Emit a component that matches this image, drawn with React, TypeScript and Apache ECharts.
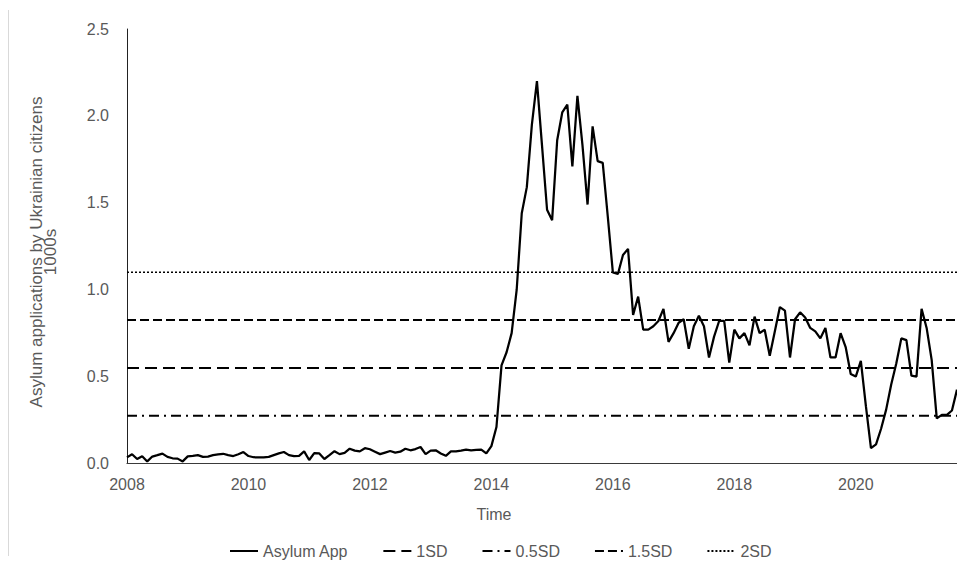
import React, { useEffect, useRef } from "react";
import * as echarts from "echarts";

// Monthly asylum applications by Ukrainian citizens (thousands), Jan 2008 – Sep 2021
const y2008 = [0.035, 0.053, 0.026, 0.042, 0.012, 0.04, 0.048, 0.057, 0.038, 0.03, 0.028, 0.012];
const y2009 = [0.041, 0.044, 0.048, 0.038, 0.04, 0.048, 0.052, 0.056, 0.048, 0.043, 0.053, 0.066];
const y2010 = [0.043, 0.036, 0.035, 0.035, 0.038, 0.048, 0.058, 0.066, 0.048, 0.042, 0.044, 0.07];
const y2011 = [0.02, 0.06, 0.058, 0.026, 0.048, 0.071, 0.054, 0.061, 0.085, 0.074, 0.07, 0.088];
const y2012 = [0.082, 0.068, 0.054, 0.063, 0.072, 0.063, 0.068, 0.085, 0.076, 0.083, 0.095, 0.054];
const y2013 = [0.074, 0.076, 0.058, 0.044, 0.07, 0.07, 0.074, 0.08, 0.076, 0.078, 0.08, 0.058];
const y2014 = [0.1, 0.21, 0.565, 0.64, 0.75, 1.0, 1.44, 1.59, 1.95, 2.2, 1.83, 1.46];
const y2015 = [1.4, 1.86, 2.02, 2.065, 1.71, 2.115, 1.83, 1.49, 1.94, 1.74, 1.73, 1.42];
const y2016 = [1.1, 1.09, 1.2, 1.235, 0.855, 0.96, 0.77, 0.77, 0.79, 0.82, 0.89, 0.7];
const y2017 = [0.75, 0.81, 0.83, 0.66, 0.79, 0.85, 0.79, 0.61, 0.73, 0.82, 0.82, 0.58];
const y2018 = [0.77, 0.72, 0.75, 0.68, 0.845, 0.75, 0.77, 0.62, 0.76, 0.9, 0.88, 0.61];
const y2019 = [0.83, 0.87, 0.84, 0.78, 0.76, 0.72, 0.78, 0.61, 0.61, 0.75, 0.67, 0.515];
const y2020 = [0.5, 0.59, 0.33, 0.088, 0.11, 0.2, 0.31, 0.455, 0.575, 0.72, 0.71, 0.505];
const y2021 = [0.5, 0.89, 0.78, 0.595, 0.26, 0.28, 0.28, 0.305, 0.425];

const yearlyValues = [
  y2008, y2009, y2010, y2011, y2012, y2013, y2014,
  y2015, y2016, y2017, y2018, y2019, y2020, y2021,
];
const firstYear = 2008;

// Threshold levels (standard-deviation bands)
const sd05 = 0.275;
const sd1 = 0.55;
const sd15 = 0.825;
const sd2 = 1.1;

const yTicks = { min: 0, max: 2.5, interval: 0.5 };

const months: string[] = [];
const asylum: number[] = [];
yearlyValues.forEach((vals, yi) => {
  vals.forEach((v, mi) => {
    months.push(`${firstYear + yi}-${String(mi + 1).padStart(2, "0")}`);
    asylum.push(v);
  });
});

const FONT = "'Liberation Sans', Arial, sans-serif";
const GREY = "#595959";

function bandSeries(name: string, level: number, dash: number[], width: number) {
  return {
    name,
    type: "line",
    symbol: "none",
    silent: true,
    color: "#000",
    data: [
      [months[0], level],
      [months[months.length - 1], level],
    ],
    lineStyle: { color: "#000", width, type: dash },
    z: 2,
  };
}

export default function App() {
  const ref = useRef<HTMLDivElement>(null);

  useEffect(() => {
    if (!ref.current) return;
    const chart = echarts.init(ref.current, undefined, { renderer: "svg" });
    chart.setOption({
      animation: false,
      backgroundColor: "#fff",
      textStyle: { fontFamily: FONT },
      grid: { left: 127, top: 29, right: 0, bottom: 100.5 },
      legend: {
        left: 224,
        top: 538,
        itemWidth: 28,
        itemHeight: 14,
        itemGap: 34,
        itemStyle: { opacity: 0 },
        textStyle: { fontFamily: FONT, fontSize: 16, color: GREY },
        data: ["Asylum App", "1SD", "0.5SD", "1.5SD", "2SD"],
      },
      xAxis: {
        type: "category",
        data: months,
        boundaryGap: false,
        axisLine: { lineStyle: { color: "#3a3a3a", width: 1.2 } },
        axisTick: { show: false },
        splitLine: { show: false },
        axisLabel: {
          interval: 23,
          margin: 13,
          fontSize: 16,
          color: GREY,
          fontFamily: FONT,
          formatter: (v: string) => v.slice(0, 4),
        },
      },
      yAxis: {
        type: "value",
        min: yTicks.min,
        max: yTicks.max,
        interval: yTicks.interval,
        axisLine: { show: true, lineStyle: { color: "#222", width: 1 } },
        axisTick: { show: false },
        splitLine: { show: false },
        axisLabel: {
          margin: 18,
          fontSize: 16,
          color: GREY,
          fontFamily: FONT,
          formatter: (v: number) => v.toFixed(1),
        },
      },
      graphic: [
        {
          type: "line",
          shape: { x1: 8.5, y1: 10, x2: 8.5, y2: 556 },
          style: { stroke: "#d9d9d9", lineWidth: 1 },
          silent: true,
        },
        {
          type: "text",
          x: 43,
          y: 252,
          rotation: Math.PI / 2,
          style: {
            text: "Asylum applications by Ukrainian citizens\n1000s",
            fontFamily: FONT,
            fontSize: 17,
            lineHeight: 14,
            fill: GREY,
            align: "center",
            verticalAlign: "middle",
          },
        },
        {
          type: "text",
          x: 494,
          y: 514,
          style: {
            text: "Time",
            fontFamily: FONT,
            fontSize: 16,
            fill: GREY,
            align: "center",
            verticalAlign: "middle",
          },
        },
      ],
      series: [
        {
          name: "Asylum App",
          type: "line",
          symbol: "none",
          color: "#000",
          data: asylum,
          lineStyle: { color: "#000", width: 2.25 },
          z: 3,
        },
        bandSeries("1SD", sd1, [12, 6], 2),
        bandSeries("0.5SD", sd05, [10, 5, 2, 5], 2),
        bandSeries("1.5SD", sd15, [9, 4], 2),
        bandSeries("2SD", sd2, [2, 2], 1.6),
      ],
    });
    return () => chart.dispose();
  }, []);

  return (
    <div
      ref={ref}
      style={{ position: "fixed", left: 0, top: 0, width: 957, height: 564 }}
    />
  );
}
